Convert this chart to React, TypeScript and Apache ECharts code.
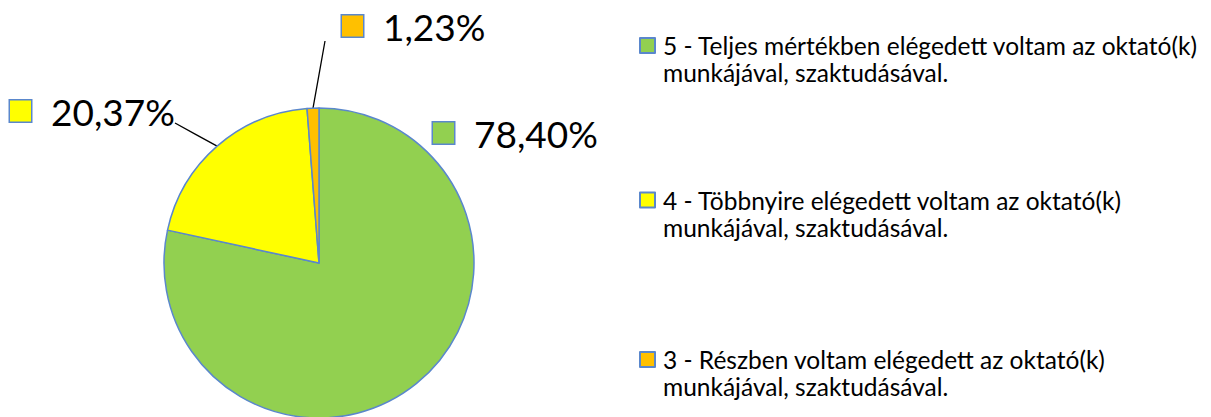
import React, { useEffect, useRef } from "react";
import * as echarts from "echarts";

const categories = [
  "5 - Teljes mértékben elégedett voltam az oktató(k) munkájával, szaktudásával.",
  "4 - Többnyire elégedett voltam az oktató(k) munkájával, szaktudásával.",
  "3 - Részben voltam elégedett az oktató(k) munkájával, szaktudásával.",
];
const values = [78.4, 20.37, 1.23];
const colors = ["#92D050", "#FFFF00", "#FFC000"];

const BORDER = "#5A87CC";
const FONT = "Lato";

// label placement (left edge of marker, vertical middle)
const labelPos: number[][] = [
  [433, 133],
  [10, 111],
  [342, 26],
];
// leader line end offsets relative to label placement (null = no line)
const lineEnd: (number[] | null)[] = [null, [165, 12], [-17, 15]];
const legendTops = [5, 159.5, 319];

function fmtPct(v: number) {
  return v.toFixed(2).replace(".", ",") + "%";
}

export default function App() {
  const ref = useRef<HTMLDivElement>(null);
  useEffect(() => {
    if (!ref.current) return;
    const chart = echarts.init(ref.current, undefined, { renderer: "svg" });
    const data = categories.map((name, i) => ({
      name,
      value: values[i],
      itemStyle: { color: colors[i] },
      label: {
        rich: {
          m: {
            width: 21,
            height: 21,
            backgroundColor: colors[i],
            borderColor: BORDER,
            borderWidth: 1.5,
          },
        },
      },
      labelLine: { show: lineEnd[i] != null },
    }));
    chart.setOption({
      animation: false,
      backgroundColor: "#fff",
      legend: categories.map((name, i) => ({
        data: [name],
        left: 639,
        top: legendTops[i],
        padding: 0,
        orient: "vertical",
        icon: "rect",
        itemWidth: 15,
        itemHeight: 15,
        selectedMode: false,
        // leading empty line keeps the marker level with the first text line
        formatter: (n: string) => "\n" + n.replace(" munkájával", "\nmunkájával"),
        textStyle: {
          fontFamily: FONT,
          fontSize: 24.5,
          lineHeight: 27,
          color: "#000",
          padding: [0, 0, 0, 3],
        },
      })),
      series: [
        {
          type: "pie",
          center: [319, 263],
          radius: 155,
          startAngle: 90,
          clockwise: true,
          itemStyle: { borderColor: BORDER, borderWidth: 1.5 },
          emphasis: { disabled: true },
          label: {
            show: true,
            position: "outside",
            formatter: (p: any) => "{m|}{v|" + fmtPct(p.value) + "}",
            rich: {
              v: {
                fontFamily: FONT,
                fontSize: 37,
                color: "#000",
                padding: [0, 0, 0, 20],
              },
            },
          },
          labelLine: {
            show: true,
            length: 10,
            length2: 10,
            lineStyle: { color: "#000", width: 1.3 },
          },
          labelLayout: (p: any) => {
            const i = p.dataIndex;
            const pos = labelPos[i];
            const res: any = {
              x: pos[0],
              y: pos[1],
              align: "left",
              verticalAlign: "middle",
            };
            const off = lineEnd[i];
            const start = p.labelLinePoints && p.labelLinePoints[0];
            if (off && start) {
              const end = [pos[0] + off[0], pos[1] + off[1]];
              const mid = [(start[0] + end[0]) / 2, (start[1] + end[1]) / 2];
              res.labelLinePoints = [start, mid, end];
            }
            return res;
          },
          data,
        },
      ],
    });
    return () => chart.dispose();
  }, []);
  return (
    <div
      ref={ref}
      style={{ position: "fixed", left: 0, top: 0, width: 1211, height: 417 }}
    />
  );
}
